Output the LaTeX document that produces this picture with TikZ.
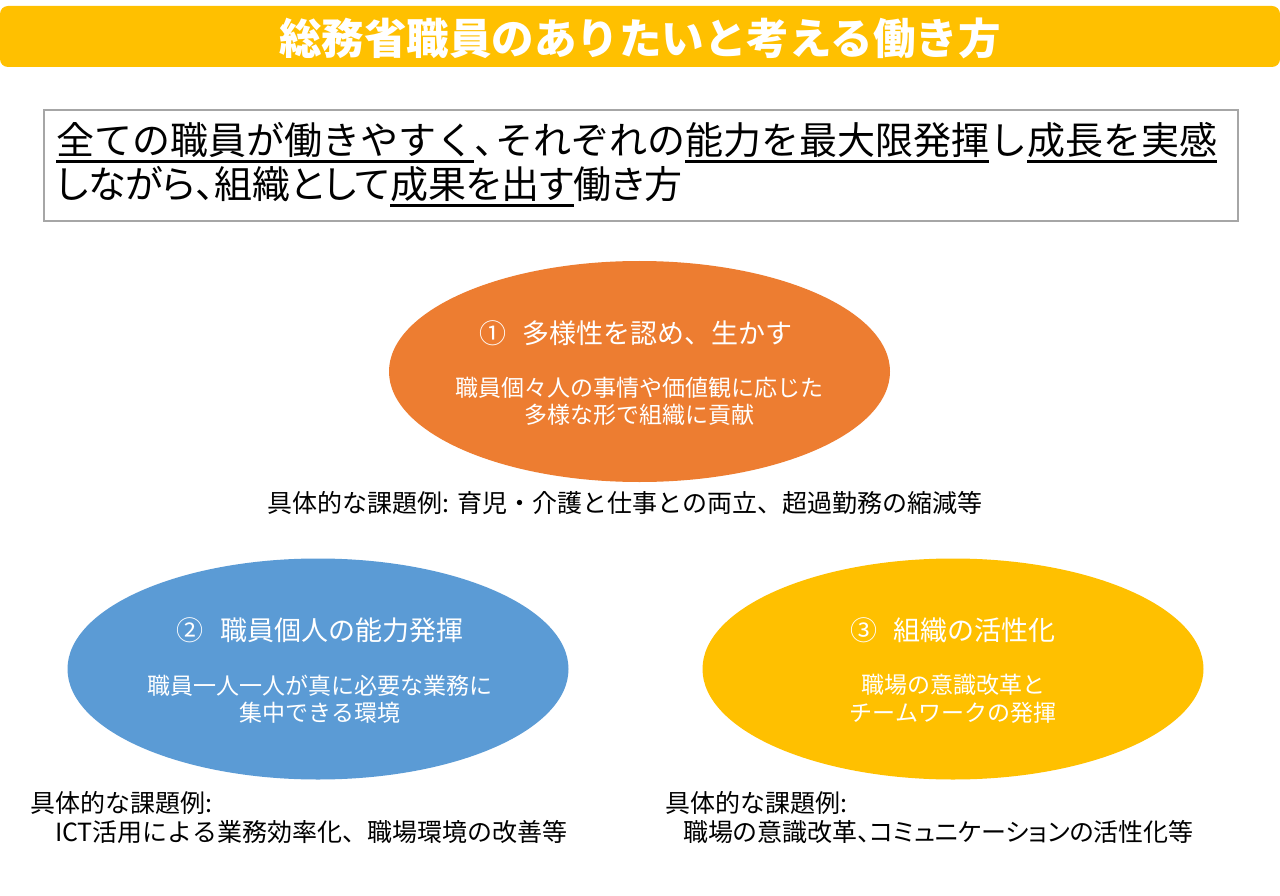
\documentclass[tikz,border=0pt]{standalone}
\usepackage{fontspec}
\newfontfamily\jp{Noto Sans CJK JP}
\newfontfamily\jpp{Noto Sans CJK JP}[RawFeature=+palt]
\usetikzlibrary{shapes.geometric}
\definecolor{gold}{HTML}{FFC000}
\definecolor{orng}{HTML}{ED7D31}
\definecolor{blu}{HTML}{5B9BD5}
\definecolor{frame}{HTML}{A6A6A6}
\newcommand\ulx[1]{\setbox0=\hbox{#1}\rlap{\rule[-8pt]{\wd0}{3pt}}\box0}
\newcommand\hcomma{\makebox[0.55em][l]{、}}
\tikzset{
  titlebar/.style={fill=gold, rounded corners=8pt, draw=none},
  mainbox/.style={draw=frame, line width=2pt, fill=white},
  oval/.style={ellipse, draw=none, minimum width=501pt, minimum height=221pt, inner sep=0pt},
  ovtitle/.style={text=white, inner sep=0pt, font=\jp\fontsize{27}{32}\selectfont},
  ovsub/.style={text=white, inner sep=0pt, align=center, font=\jp\fontsize{23}{27.5}\selectfont},
  caption/.style={text=black, inner sep=0pt, font=\jp\fontsize{25}{30}\selectfont},
  boxtext/.style={text=black, inner sep=0pt, anchor=base west, font=\jp\fontsize{38}{44}\selectfont}
}
\begin{document}
\begin{tikzpicture}[x=1pt,y=-1pt]
\useasboundingbox (0,0) rectangle (1280,896);
\fill[white] (0,0) rectangle (1280,896);
% title
\path[titlebar] (0,6) rectangle (1280,67);
\node[text=white, inner sep=0pt, font=\jp\bfseries\fontsize{42.5}{50}\selectfont] (title) at (640,38) {総務省職員のありたいと考える働き方};
% main statement box
\node[mainbox, minimum width=1194pt, minimum height=111pt, anchor=north west, inner sep=0pt] (box) at (43,109) {};
\node[boxtext] (l1) at (56,155) {\ulx{全ての職員が働きやすく}\hcomma それぞれの\ulx{能力を最大限発揮}し\ulx{成長を実感}};
\node[boxtext, font=\jpp\fontsize{38}{44}\selectfont] (l2) at (56,199) {しながら、組織として\ulx{成果を出す}働き方};
% ellipses
\node[oval, fill=orng] (e1) at (639.5,371.5) {};
\node[oval, fill=blu] (e2) at (318,669) {};
\node[oval, fill=gold] (e3) at (953,669) {};
\node[ovtitle] (t1) at (636,333) {①\hspace{0.6em}多様性を認め、生かす};
\node[ovsub] (s1) at (639,401.5) {職員個々人の事情や価値観に応じた\\多様な形で組織に貢献};
\node[ovtitle] (t2) at (320,630) {②\hspace{0.6em}職員個人の能力発揮};
\node[ovsub] (s2) at (320,699) {職員一人一人が真に必要な業務に\\集中できる環境};
\node[ovtitle] (t3) at (953,630) {③\hspace{0.6em}組織の活性化};
\node[ovsub] (s3) at (953,699) {職場の意識改革と\\チームワークの発揮};
% captions
\node[caption] (c1) at (625,503) {具体的な課題例: 育児・介護と仕事との両立、超過勤務の縮減等};
\node[caption, anchor=west] (c2) at (30,803) {具体的な課題例:};
\node[caption, anchor=west] (c3) at (55,832) {ICT活用による業務効率化、職場環境の改善等};
\node[caption, anchor=west] (c4) at (665,803) {具体的な課題例:};
\node[caption, anchor=west, font=\jpp\fontsize{25}{30}\selectfont] (c5) at (683,832) {職場の意識改革、コミュニケーションの活性化等};
\end{tikzpicture}
\end{document}
